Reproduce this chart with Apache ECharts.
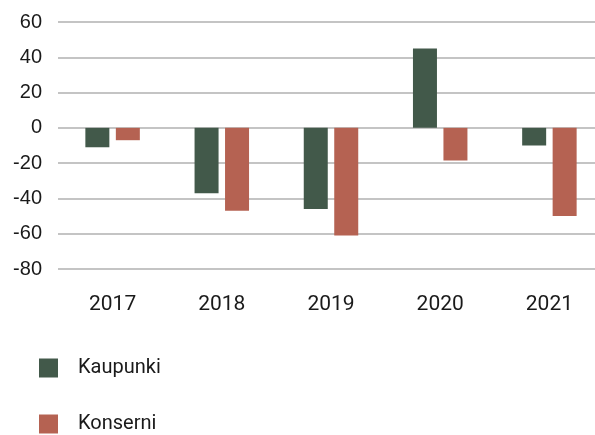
<!DOCTYPE html>
<html lang="fi">
<head>
    <meta charset="utf-8">
    <title>Kaupunki ja konserni</title>
    <script src="https://cdn.jsdelivr.net/npm/echarts@6/dist/echarts.min.js"></script>
    <style>
        html, body, #chart {
            width: 100%; height: 100%; margin: 0; padding: 0; overflow: hidden; background-color: #ffffff;
        }
    </style>
</head>
<body>
<div id="chart"></div>
<script type="text/javascript">
    var years = ['2017', '2018', '2019', '2020', '2021'];
    var kaupunki = [-11, -37, -46, 45, -10];
    var konserni = [-7, -47, -61, -18.5, -50];
    var yTicks = { min: -80, max: 60, interval: 20 };

    var myChart = echarts.init(document.getElementById('chart'));

    // one legend per series, stacked by hand
    function legendFor(name, top) {
        return {
            left: 34,
            top: top,
            itemWidth: 19,
            itemHeight: 19,
            icon: 'rect',
            textStyle: {
                fontFamily: 'Roboto',
                fontSize: 20,
                color: '#1a1a1a',
                padding: [0, 0, 0, 15]
            },
            data: [name]
        };
    }

    var option = {
        animation: false,
        backgroundColor: '#ffffff',
        grid: {
            left: 58,
            top: 22,
            width: 546,
            height: 247,
            containLabel: false,
            outerBoundsMode: 'none'
        },
        legend: [legendFor('Kaupunki', 353), legendFor('Konserni', 409)],
        xAxis: {
            type: 'category',
            data: years,
            axisLine: { show: false },
            axisTick: { show: false },
            axisLabel: {
                margin: 25,
                fontFamily: 'Roboto',
                fontSize: 21,
                color: '#1a1a1a'
            }
        },
        yAxis: {
            type: 'value',
            min: yTicks.min,
            max: yTicks.max,
            interval: yTicks.interval,
            axisLine: { show: false },
            axisTick: { show: false },
            splitLine: {
                lineStyle: { color: '#b0b0b0', width: 1.5 }
            },
            axisLabel: {
                margin: 16,
                fontFamily: 'Liberation Sans',
                fontSize: 20,
                color: '#1a1a1a'
            }
        },
        series: [
            {
                name: 'Kaupunki',
                type: 'bar',
                data: kaupunki,
                barWidth: 24,
                barGap: '27%',
                itemStyle: { color: '#42594a' }
            },
            {
                name: 'Konserni',
                type: 'bar',
                data: konserni,
                barWidth: 24,
                itemStyle: { color: '#b56252' }
            }
        ]
    };

    myChart.setOption(option);
</script>
</body>
</html>
